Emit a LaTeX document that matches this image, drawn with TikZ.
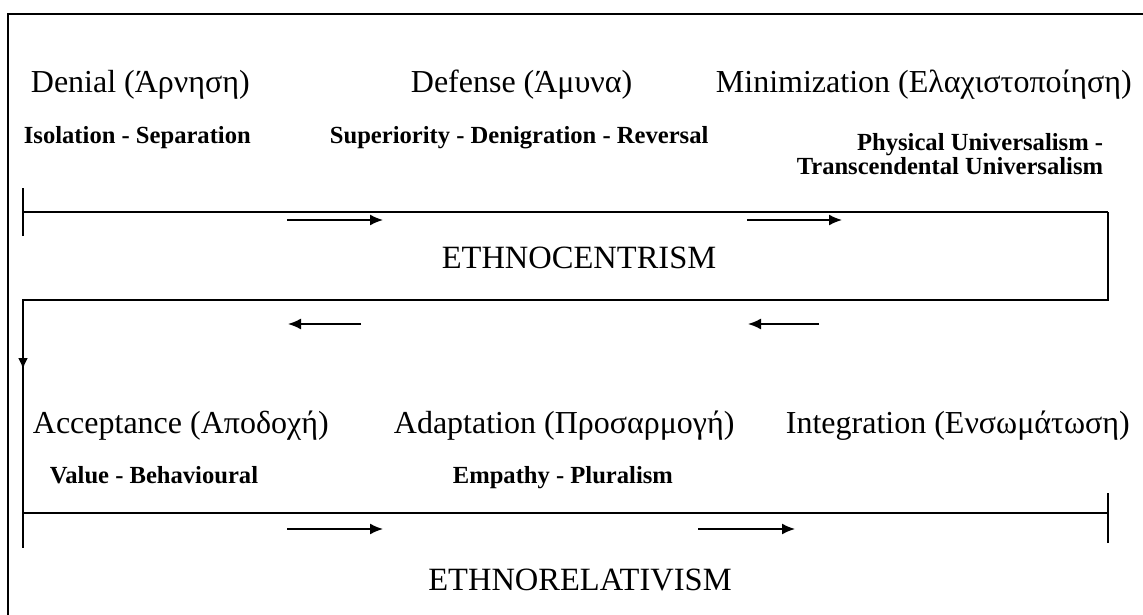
\documentclass[tikz,border=0pt]{standalone}
\usepackage{fontspec}
\setmainfont{Liberation Serif}
\usetikzlibrary{arrows.meta}
\begin{document}
\begin{tikzpicture}
  [x=1pt,y=-1pt,line width=1.8pt,
   stage/.style={font=\fontsize{32}{36}\selectfont,inner sep=0,anchor=base west},
   sub/.style={font=\bfseries\fontsize{24.6}{28}\selectfont,inner sep=0,anchor=base west},
   era/.style={font=\fontsize{32.5}{36}\selectfont,inner sep=0,anchor=base},
   flow/.style={-{Latex[length=13pt,width=11pt]},line width=1.6pt}]
  \useasboundingbox (0,0) rectangle (1143,615);

  % outer frame
  \draw[line width=1.4pt] (8,615) -- (8,14) -- (1143,14);

  % stages
  \node[stage] (denial) at (30,93) {Denial (Άρνηση)};
  \node[stage] (defense) at (410,93) {Defense (Άμυνα)};
  \node[stage] (minim) at (715,93) {Minimization (Ελαχιστοποίηση)};
  \node[sub] (isol) at (23,143) {Isolation - Separation};
  \node[sub] (super) at (329,143) {Superiority - Denigration - Reversal};
  \node[sub,anchor=base east] (phys) at (1104,150) {Physical Universalism -};
  \node[sub,anchor=base east] (trans) at (1104,175) {Transcendental Universalism};
  \node[era] (centr) at (579,268) {ETHNOCENTRISM};

  \node[stage] (accept) at (32,433) {Acceptance (Αποδοχή)};
  \node[stage] (adapt) at (393,433) {Adaptation (Προσαρμογή)};
  \node[stage] (integr) at (785,433) {Integration (Ενσωμάτωση)};
  \node[sub] (value) at (49,483) {Value - Behavioural};
  \node[sub] (empath) at (452,483) {Empathy - Pluralism};
  \node[era] (relat) at (580,590) {ETHNORELATIVISM};

  % bars
  \coordinate (tl) at (23,212);
  \coordinate (tr) at (1108,212);
  \coordinate (bl) at (23,513);
  \coordinate (br) at (1108,513);
  \draw (tl) -- (tr);
  \draw ([yshift=-24pt]tl) -- ([yshift=24pt]tl);
  \draw ([yshift=-32pt]tr) -- (tr) -- (1108,300) -- (23,300) -- ([yshift=-35pt]bl);
  \draw[-{Latex[length=11pt,width=10pt]}] (23,330) -- (23,369);
  \draw (bl) -- (br);
  \draw ([yshift=-30pt]br) -- ([yshift=20pt]br);

  % small arrows
  \coordinate (p1) at (287,220); \coordinate (q1) at (383,220);
  \coordinate (p2) at (747,220); \coordinate (q2) at (842,220);
  \coordinate (p3) at (361,324); \coordinate (q3) at (288,324);
  \coordinate (p4) at (819,324); \coordinate (q4) at (748,324);
  \coordinate (p5) at (287,529); \coordinate (q5) at (383,529);
  \coordinate (p6) at (698,529); \coordinate (q6) at (795,529);
  \foreach \from/\to in {p1/q1,p2/q2,p3/q3,p4/q4,p5/q5,p6/q6}
    \draw[flow] (\from) -- (\to);
\end{tikzpicture}
\end{document}
